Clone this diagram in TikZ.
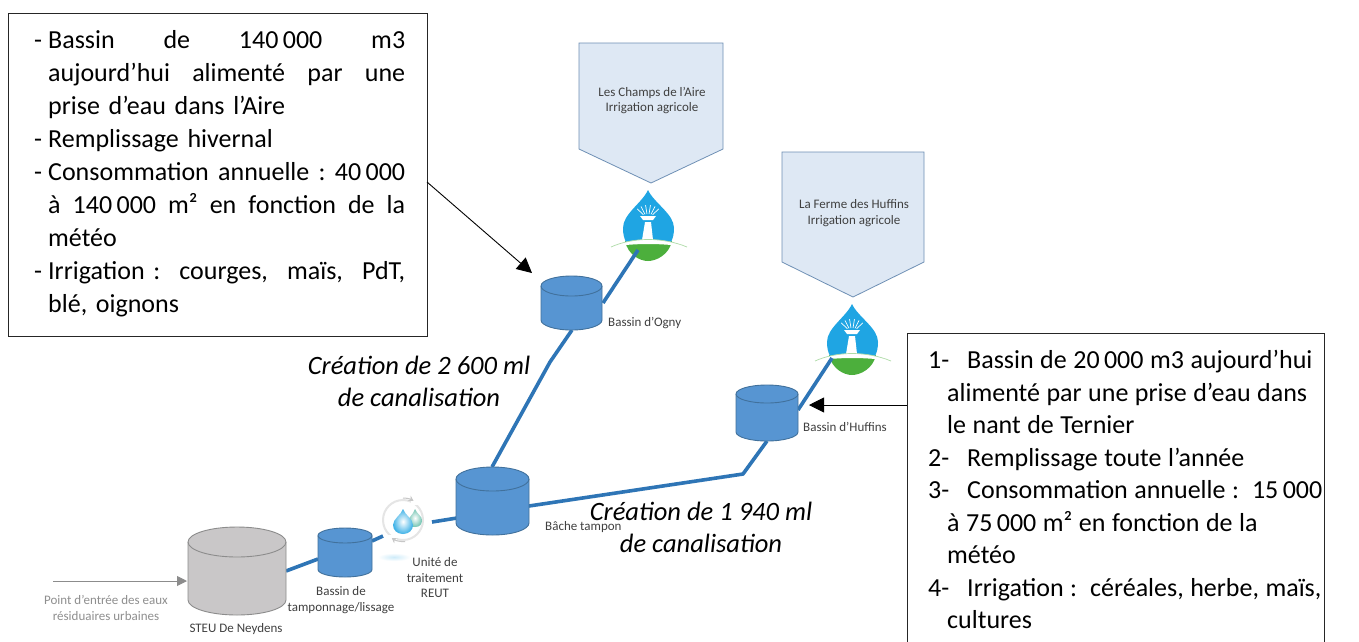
\documentclass[tikz,border=0pt]{standalone}
\usepackage{fontspec}
\setmainfont{Carlito}
\usetikzlibrary{arrows.meta}
\definecolor{tank}{HTML}{5795D2}
\definecolor{tankline}{HTML}{41719C}
\definecolor{pipe}{HTML}{2E75B6}
\definecolor{grayfill}{HTML}{C9C7C8}
\definecolor{grayline}{HTML}{8C8C8C}
\definecolor{tagfill}{HTML}{DEE8F4}
\definecolor{tagline}{HTML}{6F90B5}
\definecolor{dropblue}{HTML}{1FA5E3}
\definecolor{dropgreen}{HTML}{4CAF3C}
\definecolor{lighttext}{HTML}{8F8F8F}
\tikzset{
  x=1pt,y=-1pt,
  pipeline/.style={draw=pipe,line width=3.6pt},
  box/.style={draw=black!85,line width=1pt,fill=white},
  small/.style={font=\fontsize{13}{15.5}\selectfont,text=black!75,align=center,inner sep=0pt},
  body/.style={font=\fontsize{26}{33}\selectfont,inner sep=0pt,anchor=north west},
  ital/.style={font=\fontsize{26.5}{32}\itshape\selectfont,inner sep=0pt,align=center},
  call/.style={draw=black,line width=0.9pt,-{Triangle[length=15pt,width=15pt]}},
}
\newcommand{\tankshape}[7]{%
  \path[fill=#6,draw=#7,line width=0.9pt] (#1-#3,#2) -- (#1-#3,#2+#5) arc[start angle=180,end angle=360,x radius=#3,y radius=-#4] -- (#1+#3,#2) arc[start angle=0,end angle=180,x radius=#3,y radius=-#4] -- cycle;
  \path[draw=#7,line width=0.9pt] (#1-#3,#2) arc[start angle=180,end angle=360,x radius=#3,y radius=-#4];
}
\newcommand{\dropicon}[2]{%
  \begin{scope}[shift={(#1,#2)}]
    \fill[dropgreen] (-23,51) .. controls (-20,65) and (-8,71) .. (0,71) .. controls (8,71) and (21,65) .. (24,51) -- cycle;
    \fill[dropblue] (0,0) .. controls (-6,13) and (-25,24) .. (-25,38) .. controls (-25,44) and (-24,48) .. (-22,52) -- (23,52) .. controls (25,48) and (26,44) .. (26,38) .. controls (26,24) and (6,13) .. (0,0) -- cycle;
    \fill[white] (-3,32) -- (3,32) -- (5,50) -- (-6,50) -- cycle;
    \fill[white] (-8,26) -- (8,26) -- (5,30) -- (-5,30) -- cycle;
    \foreach \a in {-50,-30,-10,10,30,50}{\draw[white,line width=0.7pt] ({sin(\a)*6},{26-cos(\a)*2}) -- ({sin(\a)*14},{26-cos(\a)*11});}
    \fill[white] (-37,57) .. controls (-15,47) and (15,47) .. (39,57) .. controls (15,53) and (-15,53) .. (-37,57) -- cycle;
    \draw[dropgreen!45!white,line width=0.7pt] (-37,57) .. controls (-15,47) and (15,47) .. (39,57);
  \end{scope}
}
\begin{document}
\begin{tikzpicture}
\path[use as bounding box,fill=white] (0,0) rectangle (1359,641);
\clip (0,0) rectangle (1359,641);

\coordinate (entry) at (53,581);
\coordinate (steu) at (187,581);
\coordinate (steuR) at (286,571);
\coordinate (lissL) at (318,559);
\coordinate (lissR) at (372,541);
\coordinate (reutL) at (383,536);
\coordinate (reutR) at (432,522);
\coordinate (bacheL) at (457,518);
\coordinate (bacheTop) at (492,467);
\coordinate (ognyKnee) at (550,362);
\coordinate (ognyB) at (572,330);
\coordinate (ognyR) at (603,303);
\coordinate (dropA) at (638,250);
\coordinate (bacheR) at (529,506);
\coordinate (huffKnee) at (743,474);
\coordinate (huffB) at (767,441);
\coordinate (huffR) at (798,410);
\coordinate (dropB) at (832,358);

% tags
\draw[fill=tagfill,draw=tagline,line width=0.8pt] (579,43) -- (723,43) -- (723,149) -- (651,183) -- (579,149) -- cycle;
\node[small] (tagA) at (652,100.5) {Les Champs de l’Aire\\Irrigation agricole};
\draw[fill=tagfill,draw=tagline,line width=0.8pt] (782,152) -- (924,152) -- (924,262) -- (853,297) -- (782,262) -- cycle;
\node[small] (tagB) at (854,213) {La Ferme des Huffins\\Irrigation agricole};

% drops
\dropicon{648}{190}
\dropicon{852}{304}

% pipes
\draw[pipeline] (steuR) -- (lissL);
\draw[pipeline] (lissR) -- (reutL);
\draw[pipeline] (reutR) -- (bacheL);
\draw[pipeline,line join=round] (bacheTop) -- (ognyKnee) -- (ognyB);
\draw[pipeline] (ognyR) -- (dropA);
\draw[pipeline,line join=round] (bacheR) -- (huffKnee) -- (huffB);
\draw[pipeline] (huffR) -- (dropB);

% tanks
\tankshape{571.5}{286}{30.5}{10}{34}{tank}{tankline}
\tankshape{767}{394}{31}{9}{38}{tank}{tankline}
\tankshape{492.5}{479}{36.5}{12}{44}{tank}{tankline}
\tankshape{345}{535.5}{27}{7.5}{34}{tank}{tankline}
\tankshape{237}{542}{49}{15}{58}{grayfill}{grayline}

% treatment unit
\draw[black!10,line width=2pt] (403,520) circle[radius=20];
\fill[white] (411,494) rectangle (419,505);
\fill[white] (388,535) rectangle (397,547);
\draw[black!22,line width=1pt,-{Stealth[length=5pt,width=6pt]}] (403,498) arc[start angle=-90,end angle=-60,radius=21];
\draw[black!22,line width=1pt,-{Stealth[length=5pt,width=6pt]}] (405,541.5) arc[start angle=85,end angle=125,radius=20];
\shade[inner color=white,outer color=dropgreen!50!dropblue!70] (415,509) .. controls (413,515) and (408,518) .. (408,521) .. controls (408,526) and (411,527) .. (415,527) .. controls (420,527) and (422,524) .. (422,520) .. controls (422,516) and (417,514) .. (415,509) -- cycle;
\shade[inner color=white,outer color=dropblue!85] (403,509) .. controls (401,515) and (393,519) .. (393,525) .. controls (393,530) and (397,534) .. (403,534) .. controls (409,534) and (413,530) .. (413,525) .. controls (413,519) and (405,515) .. (403,509) -- cycle;
\shade[inner color=dropblue!22,outer color=white] (378,553) rectangle (410,561);

% grey entry arrow
\draw[draw=grayline,line width=0.9pt,-{Triangle[length=10pt,width=10pt]}] (entry) -- (steu);

% diagram labels
\node[small,text=lighttext] (entrylab) at (106,608) {Point d’entrée des eaux\\résiduaires urbaines};
\node[small] (steulab) at (236,629) {STEU De Neydens};
\node[small] (lisslab) at (341,600) {Bassin de\\tamponnage/lissage};
\node[small] (reutlab) at (435,578) {Unité de\\traitement\\REUT};
\node[small,anchor=west] (bachelab) at (545,527) {Bâche tampon};
\node[small,anchor=west] (ognylab) at (608,323) {Bassin d’Ogny};
\node[small,anchor=west] (hufflab) at (803,427) {Bassin d’Huffins};

% italic captions
\node[ital] (cap1) at (419,381) {Création de 2 600 ml\\de canalisation};
\node[ital] (cap2) at (701,527) {Création de 1 940 ml\\de canalisation};

% text boxes
\node[box,minimum width=419pt,minimum height=323pt,anchor=north west,inner sep=0pt] (left) at (8,13) {};
\node[box,minimum width=417pt,minimum height=330pt,anchor=north west,inner sep=0pt] (right) at (907,333) {};
\coordinate (leftcall) at (427,182);
\coordinate (ognyarrow) at (532,273);
\coordinate (rightcall) at (907,405);
\coordinate (huffarrow) at (809,405);
\draw[call] (leftcall) -- (ognyarrow);
\draw[call] (rightcall) -- (huffarrow);

\node[body,text width=371pt] (lefttext) at (34,30) {%
\hbox to 371pt{\hbox to 14pt{-\hfill}Bassin\hfill de\hfill 140\,000\hfill m3}
\hbox to 371pt{\hspace{14pt}aujourd’hui\hfill alimenté\hfill par\hfill une}
\hbox to 371pt{\hspace{14pt}prise d’eau dans l’Aire\hfill}
\hbox to 371pt{\hbox to 14pt{-\hfill}Remplissage hivernal\hfill}
\hbox to 371pt{\hbox to 14pt{-\hfill}Consommation\hfill annuelle\hfill :\hfill 40\,000}
\hbox to 371pt{\hspace{14pt}à\hfill 140\,000\hfill m²\hfill en\hfill fonction\hfill de\hfill la}
\hbox to 371pt{\hspace{14pt}météo\hfill}
\hbox to 371pt{\hbox to 14pt{-\hfill}Irrigation :\hfill courges,\hfill maïs,\hfill PdT,}
\hbox to 371pt{\hspace{14pt}blé, oignons\hfill}};

\node[body,text width=400pt,font=\fontsize{26}{32.5}\selectfont] (righttext) at (928,350) {%
\spaceskip=0.25em\relax
\hbox{\hbox to 39pt{1-\hfill}Bassin de 20\,000 m3 aujourd’hui}
\hbox{\hspace{19pt}alimenté par une prise d’eau dans}
\hbox{\hspace{19pt}le nant de Ternier}
\hbox{\hbox to 39pt{2-\hfill}Remplissage toute l’année}
\hbox{\hbox to 39pt{3-\hfill}Consommation annuelle : 15\,000}
\hbox{\hspace{19pt}à 75\,000 m² en fonction de la}
\hbox{\hspace{19pt}météo}
\hbox{\hbox to 39pt{4-\hfill}Irrigation : céréales, herbe, maïs,}
\hbox{\hspace{19pt}cultures}};
\end{tikzpicture}
\end{document}
